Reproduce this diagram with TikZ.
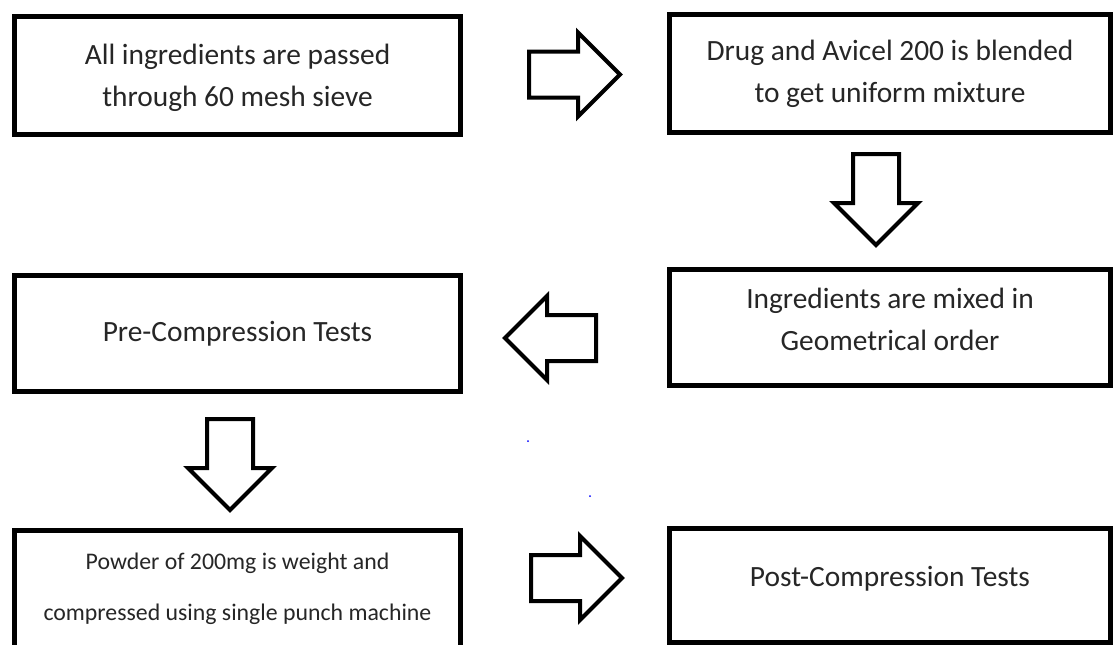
\documentclass[tikz,border=0pt]{standalone}
\usepackage{fontspec}
\setmainfont{Carlito}
\usetikzlibrary{shapes.arrows}

\tikzset{
	stage/.style={draw=black, line width=2.5pt, text=black!85, align=center, inner sep=0pt,
		font=\fontsize{14.7}{21}\selectfont},
	bigarrow/.style={single arrow, draw=black, line width=2pt, fill=white, inner sep=10.5pt,
		single arrow head extend=9.5pt, minimum height=45.5pt, anchor=tail}
}

\begin{document}
\begin{tikzpicture}[x=0.5pt,y=-0.5pt]
		\useasboundingbox (0,0) rectangle (1115,644);
		\clip (0,0) rectangle (1115,644);
		\fill[white] (0,0) rectangle (1115,644);
		\node[stage, minimum width=223pt, minimum height=59pt, text depth=0pt] (sieve) at (237.5,75.5) {All ingredients are passed\\through 60 mesh sieve};
		\node[stage, minimum width=220.5pt, minimum height=59pt] (blend) at (890,73.5) {Drug and Avicel 200 is blended\\to get uniform mixture};
		\node[stage, minimum width=220.5pt, minimum height=58pt, text depth=8pt] (mix) at (890,327.5) {Ingredients are mixed in\\Geometrical order};
		\node[stage, minimum width=223pt, minimum height=58pt] (precomp) at (237.5,333.5) {Pre-Compression Tests};
		\node[stage, minimum width=223pt, minimum height=59pt, font=\fontsize{11.9}{25.5}\selectfont] (powder) at (237.5,589) {Powder of 200mg is weight and\\compressed using single punch machine};
		\node[stage, minimum width=220.5pt, minimum height=57pt, text depth=9pt] (postcomp) at (890,585.5) {Post-Compression Tests};
		\node[bigarrow] (arrowa) at (527,74.5) {};
		\node[bigarrow, shape border rotate=270] (arrowb) at (876,152) {};
		\node[bigarrow, shape border rotate=180] (arrowc) at (598,338) {};
		\node[bigarrow, shape border rotate=270] (arrowd) at (230,417) {};
		\node[bigarrow] (arrowe) at (529,578) {};
		\fill[blue] (528,441) circle (1);
		\fill[blue] (590,496) circle (1);
\end{tikzpicture}
\end{document}
